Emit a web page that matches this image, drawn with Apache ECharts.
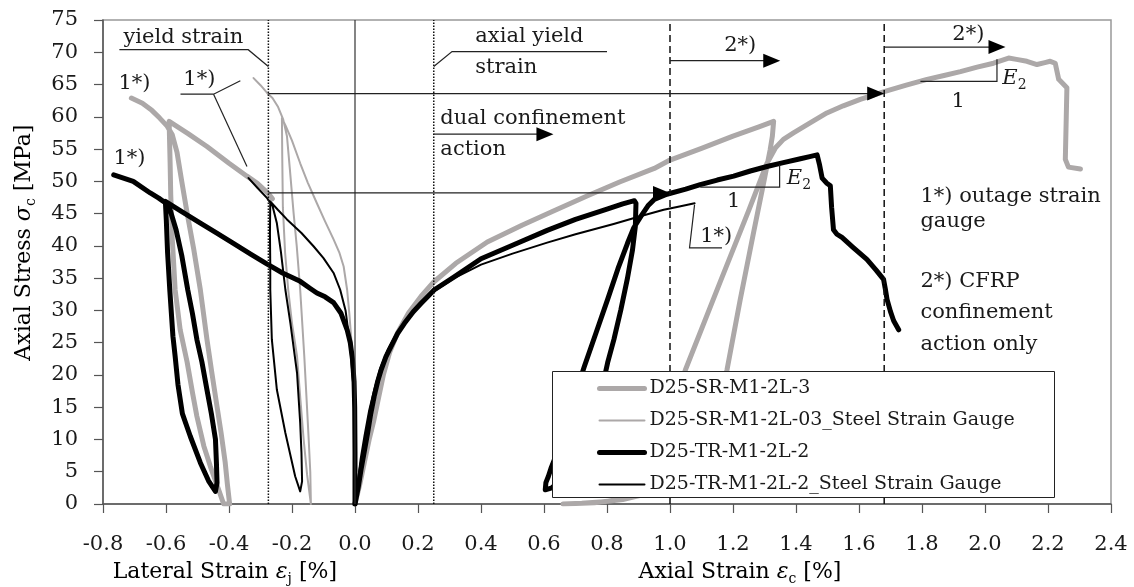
<!DOCTYPE html>
<html>
<head>
<meta charset="utf-8">
<script src="https://cdn.jsdelivr.net/npm/echarts@6/dist/echarts.min.js"></script>
<style>
  html, body { margin: 0; padding: 0; background: #fff; }
  #chart { width: 1134px; height: 587px; }
</style>
</head>
<body>
<div id="chart"></div>
<script>
// Stress–strain data: [strain %, stress MPa]; lateral strain is negative.
const seriesNames = [
  'D25-SR-M1-2L-3',
  'D25-SR-M1-2L-03_Steel Strain Gauge',
  'D25-TR-M1-2L-2',
  'D25-TR-M1-2L-2_Steel Strain Gauge'
];

const srLateral = [
  [-0.262,47.3],[-0.275,48.1],[-0.31,49.7],[-0.343,50.8],
  [-0.4,52.8],[-0.47,55.4],[-0.53,57.4],[-0.59,59.3],
  [-0.589,57],[-0.587,53],[-0.585,48],[-0.58,41],[-0.571,33.2],[-0.555,27],[-0.533,22],[-0.515,17],
  [-0.502,13.6],[-0.48,9],[-0.459,5.8],[-0.435,2.5],[-0.417,0],
  [-0.398,0],[-0.405,3],[-0.412,6.4],[-0.425,11],[-0.438,15.1],[-0.455,20.5],[-0.47,25.5],[-0.491,33.2],
  [-0.512,39.5],[-0.533,45.1],[-0.55,50],[-0.565,54.5],[-0.58,57.2],[-0.597,58.6],[-0.62,59.8],
  [-0.645,61],[-0.675,62.1],[-0.71,62.9]
];

const srAxial = [
  [0,0],[0.015,3],[0.03,6.5],[0.045,10],[0.06,13],[0.075,16.5],[0.09,20],[0.11,23.5],[0.135,26.5],
  [0.17,29.6],[0.21,32.2],[0.25,34.4],[0.32,37.3],[0.42,40.6],[0.53,43.2],[0.63,45.4],[0.74,47.8],
  [0.84,49.9],[0.95,52],[1.0,53.3],[1.1,55.1],[1.2,57],[1.28,58.4],[1.329,59.3],
  [1.325,57],[1.318,54.9],[1.297,49.7],[1.265,42],[1.223,31.7],[1.181,20.8],[1.15,15],[1.11,10],
  [1.06,6],[1.0,3.3],[0.93,1.6],[0.85,0.7],[0.76,0.2],[0.66,0],
  [0.72,0.1],[0.8,0.4],[0.86,1],[0.9,2.5],[0.94,6],[0.98,11],[1.049,20.8],[1.16,34.5],[1.25,45.5],
  [1.308,52.8],[1.335,55.2],[1.36,56.5],[1.392,57.5],[1.45,59.2],[1.498,60.6],[1.55,61.7],
  [1.604,62.7],[1.68,63.9],[1.75,64.9],[1.816,65.8],[1.87,66.4],[1.922,67],[1.975,67.7],
  [2.027,68.3],[2.075,69.1],[2.1,68.9],[2.133,68.6],[2.165,68.1],[2.19,68.4],[2.207,68.6],
  [2.223,68.3],[2.234,65.8],[2.26,64.5],[2.258,60],[2.255,53.4],[2.265,52.2],[2.303,51.9]
];

const srGaugeLateral = [
  [0,0],[-0.001,10],[-0.003,18],[-0.01,24.4],[-0.018,29.5],[-0.025,33.2],[-0.036,36.8],[-0.05,39],
  [-0.068,41],[-0.095,43.8],[-0.121,46.6],[-0.15,49.8],[-0.174,52.8],[-0.2,56.3],[-0.22,58.6],[-0.232,59.8],
  [-0.231,54],[-0.229,46],[-0.222,39],[-0.212,33.2],[-0.2,28],[-0.184,22.9],[-0.173,16],[-0.163,10],
  [-0.152,4.5],[-0.14,0],
  [-0.138,0],[-0.142,5],[-0.147,10],[-0.154,16.5],[-0.161,22.9],[-0.174,33.2],[-0.185,40],[-0.195,45.1],
  [-0.207,52],[-0.216,57],[-0.228,59.6],[-0.245,61.6],[-0.262,62.9],[-0.279,63.7],[-0.3,64.9],[-0.322,66]
];

const trLateral = [
  [0,0],[0,8],[-0.001,15],[-0.003,19],[-0.008,22.4],[-0.015,25],[-0.025,27],[-0.045,29.6],[-0.068,31.2],
  [-0.095,32.1],[-0.121,32.7],[-0.142,33.4],[-0.174,34.5],[-0.23,35.8],[-0.28,37.2],[-0.33,38.7],
  [-0.386,40.4],[-0.44,42],[-0.5,43.8],[-0.55,45.3],[-0.602,46.9],
  [-0.599,44],[-0.595,39],[-0.588,33.2],[-0.578,26],[-0.571,22.9],[-0.562,18.5],[-0.548,14],
  [-0.523,10.5],[-0.491,6.4],[-0.465,3.6],[-0.443,1.95],
  [-0.438,3.3],[-0.44,6.5],[-0.443,10],[-0.456,14],[-0.47,17.7],[-0.486,22],[-0.502,25.5],[-0.516,29.5],
  [-0.531,33.2],[-0.55,38.5],[-0.568,42.5],[-0.586,45.4],[-0.6,46.6],[-0.623,47.4],[-0.65,48.2],
  [-0.704,50],[-0.766,51]
];

const trAxial = [
  [0,0],[0.01,2.5],[0.019,5.3],[0.03,8.3],[0.04,11],[0.05,14],[0.061,16.7],[0.072,19],[0.083,20.8],
  [0.098,22.8],[0.114,24.4],[0.135,26.4],[0.157,28],[0.185,29.8],[0.21,31.1],[0.252,33.2],[0.315,35.2],
  [0.4,38],[0.5,40.1],[0.61,42.4],[0.7,44.1],[0.8,45.7],[0.85,46.5],[0.887,47],
  [0.892,46.6],[0.89,43],[0.881,39.4],[0.865,35],[0.844,30.1],[0.822,25.5],[0.802,21.9],[0.78,17],
  [0.75,12],[0.71,7.5],[0.665,4.3],[0.625,2.5],[0.604,2.2],
  [0.606,3.3],[0.614,4.3],[0.622,5.5],[0.638,7.5],[0.654,9.5],[0.67,12],[0.686,14.6],[0.706,18],
  [0.728,21.3],[0.765,26.5],[0.802,31.7],[0.835,36.5],[0.865,40.4],[0.885,42.8],[0.908,44.6],
  [0.93,46.2],[0.95,47.2],[0.99,48],[1.05,48.8],[1.096,49.5],[1.15,50.2],[1.202,50.8],[1.255,51.6],
  [1.308,52.3],[1.36,52.9],[1.414,53.5],[1.44,53.8],[1.467,54.1],
  [1.475,52.5],[1.483,50.5],[1.498,49.7],[1.509,49.3],[1.513,46],[1.519,42.5],[1.53,41.8],[1.546,41.3],
  [1.58,39.8],[1.625,37.9],[1.655,36.2],[1.678,34.8],[1.684,33.2],[1.689,31.7],[1.7,29.8],[1.71,28.4],
  [1.726,27]
];

const trGaugeLateral = [
  [0,0],[-0.001,10],[-0.005,18],[-0.015,24.4],[-0.03,30],[-0.047,33.2],[-0.068,35.8],[-0.1,38.1],
  [-0.131,39.9],[-0.17,42],[-0.216,44.1],[-0.245,45.6],[-0.269,46.9],
  [-0.27,42],[-0.269,37],[-0.269,33.2],[-0.264,25.5],[-0.248,17.7],[-0.221,11],[-0.19,4.3],[-0.174,1.95],
  [-0.168,3.5],[-0.17,8],[-0.174,12.6],[-0.184,20.3],[-0.205,28],[-0.221,33.2],[-0.235,39],[-0.248,43.5],
  [-0.262,46.2],[-0.279,47.4],[-0.31,49],[-0.338,50.5]
];

const trGaugeAxial = [
  [0,0],[0.008,3],[0.018,7],[0.03,10.5],[0.045,14.5],[0.061,17.7],[0.08,21],[0.104,23.9],[0.13,26.2],
  [0.157,28],[0.21,31.2],[0.252,33],[0.315,35],[0.4,37.1],[0.5,38.8],[0.61,40.5],[0.7,41.8],
  [0.821,43.4],[0.9,44.5],[0.98,45.6],[1.03,46.1],[1.078,46.6]
];

// Reference strains (vertical guide lines) and guide levels
const yieldStrainLateral = -0.275;
const yieldStrainAxial = 0.25;
const cfrpOnlyStrains = [1.0, 1.68];
const guideStressLevels = [63.6, 48.2];

const FONT = 'DejaVu Serif';
const GRAY = '#aca8a8';
const BLACK = '#000000';
const INK = '#1a1a1a';
const seriesColors = [GRAY, GRAY, BLACK, BLACK];
const seriesWidths = [5, 2, 5, 2];

const chart = echarts.init(document.getElementById('chart'), null, { renderer: 'canvas' });

function curve(idx, data) {
  const color = seriesColors[idx], width = seriesWidths[idx];
  return {
    name: seriesNames[idx], type: 'line', data: data, showSymbol: false, symbol: 'none', silent: true,
    lineStyle: { color: color, width: width, cap: 'round', join: 'round' },
    itemStyle: { color: color }, z: 2
  };
}

chart.setOption({
  animation: false,
  backgroundColor: '#fff',
  grid: { left: 103, right: 23, top: 20, bottom: 83, show: true, borderColor: '#999', borderWidth: 1.5 },
  xAxis: {
    type: 'value', min: -0.8, max: 2.4, interval: 0.2,
    axisLine: { show: true, onZero: false, lineStyle: { color: '#555', width: 1.5 } },
    axisTick: { show: true, length: 9, lineStyle: { color: '#555', width: 1.2 } },
    splitLine: { show: false },
    axisLabel: {
      margin: 30, fontFamily: FONT, fontSize: 21, color: INK,
      formatter: function (v) { return Math.abs(v) < 1e-9 ? '0.0' : v.toFixed(1); }
    }
  },
  yAxis: {
    type: 'value', min: 0, max: 75, interval: 5,
    axisLine: { show: true, onZero: false, lineStyle: { color: '#555', width: 1.5 } },
    axisTick: { show: true, length: 9, lineStyle: { color: '#555', width: 1.2 } },
    splitLine: { show: false },
    axisLabel: { margin: 25, fontFamily: FONT, fontSize: 21, color: INK }
  },
  legend: {
    data: seriesNames.map((n, i) => ({
      name: n,
      lineStyle: { width: seriesWidths[i], color: seriesColors[i], cap: 'round' },
      itemStyle: { opacity: 0, borderWidth: 0 }
    })),
    orient: 'vertical', left: 597, top: 379, padding: 0,
    itemWidth: 45, itemHeight: 14, itemGap: 13, z: 20, selectedMode: false,
    textStyle: { fontFamily: FONT, fontSize: 19, color: INK }
  },
  series: [
    curve(0, srLateral),
    curve(0, srAxial),
    curve(1, srGaugeLateral),
    curve(2, trLateral),
    curve(2, trAxial),
    curve(3, trGaugeLateral),
    curve(3, trGaugeAxial)
  ]
});

// ---- annotations, placed in data coordinates ----
const P = (v, s) => chart.convertToPixel({ gridIndex: 0 }, [v, s]);
const g = [];

function vline(v, dash, width, color) {
  const a = P(v, 0), b = P(v, 75);
  g.push({ type: 'line', z: 5, silent: true,
    shape: { x1: a[0], y1: a[1], x2: b[0], y2: b[1] },
    style: { stroke: color || '#111', lineWidth: width || 1.5, lineDash: dash || null } });
}
function polyline(pts, width) {
  g.push({ type: 'polyline', z: 5, silent: true,
    shape: { points: pts.map(p => P(p[0], p[1])) },
    style: { stroke: '#222', lineWidth: width || 1.2, fill: null } });
}
function arrow(v1, v2, s) {
  const a = P(v1, s), b = P(v2, s);
  const L = 17, H = 7;
  g.push({ type: 'line', z: 5, silent: true,
    shape: { x1: a[0], y1: a[1], x2: b[0] - L + 2, y2: b[1] },
    style: { stroke: '#222', lineWidth: 1.3 } });
  g.push({ type: 'polygon', z: 5, silent: true,
    shape: { points: [[b[0] - L, b[1] - H], [b[0], b[1]], [b[0] - L, b[1] + H]] },
    style: { fill: '#000' } });
}
function richStyles(size) {
  return {
    n: { fontFamily: FONT, fontSize: size, lineHeight: 28, verticalAlign: 'middle', color: INK },
    i: { fontFamily: FONT, fontSize: size, fontStyle: 'italic', lineHeight: 28, verticalAlign: 'middle', color: INK },
    s: { fontFamily: FONT, fontSize: 14, lineHeight: 14, verticalAlign: 'bottom', color: INK }
  };
}
function label(v, s, text, align, rich) {
  const p = P(v, s);
  const style = { text: text, fontFamily: FONT, fontSize: 21, fill: INK,
    align: align || 'left', verticalAlign: 'middle' };
  if (rich) style.rich = richStyles(21);
  g.push({ type: 'text', z: 6, silent: true, x: p[0], y: p[1], style: style });
}

// vertical guides
vline(0, null, 1.2, '#333');
vline(yieldStrainLateral, [1.5, 1.5], 1.5);
vline(yieldStrainAxial, [1.5, 1.5], 1.5);
cfrpOnlyStrains.forEach(v => vline(v, [7, 4], 1.5));

// horizontal guides ending in arrows
arrow(yieldStrainLateral, cfrpOnlyStrains[1], guideStressLevels[0]);
arrow(yieldStrainLateral, cfrpOnlyStrains[0], guideStressLevels[1]);
arrow(yieldStrainAxial, 0.63, 57.3);
arrow(cfrpOnlyStrains[0], 1.35, 68.7);
arrow(cfrpOnlyStrains[1], 2.065, 70.8);

// callout leaders
polyline([[-0.748, 70.4], [-0.339, 70.4], [-0.275, 67.8]]);
polyline([[-0.554, 63.5], [-0.449, 63.5], [-0.364, 65.6]]);
polyline([[-0.449, 63.5], [-0.343, 52.3]]);
polyline([[0.25, 67.8], [0.308, 70.1], [0.80, 70.1]]);
polyline([[1.078, 46.4], [1.062, 39.7], [1.165, 39.7]]);
// slope triangles
polyline([[1.795, 65.5], [2.038, 65.5], [2.038, 68.9]]);
polyline([[1.096, 49.1], [1.348, 49.1], [1.348, 52.6]]);

// texts
label(-0.735, 72.3, 'yield strain');
label(-0.751, 65.2, '1*)');
label(-0.545, 65.7, '1*)');
label(-0.767, 53.6, '1*)');
label(0.382, 72.5, 'axial yield');
label(0.382, 67.6, 'strain');
label(0.271, 59.8, 'dual confinement');
label(0.271, 54.9, 'action');
label(1.223, 71.0, '2*)', 'center');
label(1.947, 72.7, '2*)', 'center');
label(2.055, 66.0, '{i|E}{s|2}', 'left', true);
label(1.915, 62.4, '1', 'center');
label(1.371, 50.4, '{i|E}{s|2}', 'left', true);
label(1.202, 46.9, '1', 'center');
label(1.096, 41.5, '1*)');
label(1.795, 47.6, '1*) outage strain');
label(1.795, 43.8, 'gauge');
label(1.795, 34.4, '2*) CFRP');
label(1.795, 29.7, 'confinement');
label(1.795, 24.7, 'action only');

// axis titles
const x0 = P(0, 0);
const titleRich = richStyles(22);
g.push({ type: 'text', z: 6, silent: true, x: P(-0.769, 0)[0], y: x0[1] + 68,
  style: { text: '{n|Lateral Strain }{i|ε}{s|j}{n| [%]}', rich: titleRich, align: 'left', verticalAlign: 'middle' } });
g.push({ type: 'text', z: 6, silent: true, x: P(0.9, 0)[0], y: x0[1] + 68,
  style: { text: '{n|Axial Strain }{i|ε}{s|c}{n| [%]}', rich: titleRich, align: 'left', verticalAlign: 'middle' } });
g.push({ type: 'text', z: 6, silent: true, x: 24, y: P(0, 40.5)[1], rotation: Math.PI / 2,
  style: { text: '{n|Axial Stress }{i|σ}{s|c}{n| [MPa]}', rich: titleRich, align: 'center', verticalAlign: 'middle' } });

// legend frame (covers curves beneath it)
g.push({ type: 'rect', z: 15, silent: true,
  shape: { x: 552.5, y: 371.5, width: 502, height: 126 },
  style: { fill: '#fff', stroke: '#222', lineWidth: 1 } });

chart.setOption({ graphic: g });
</script>
</body>
</html>
